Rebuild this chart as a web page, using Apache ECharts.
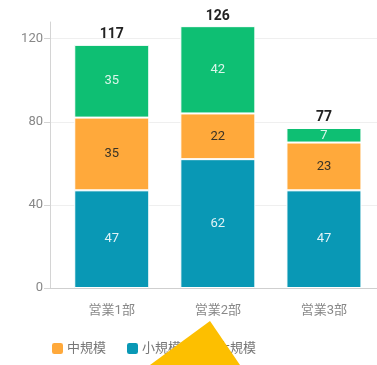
<!DOCTYPE html>
<html>
<head>
<meta charset="utf-8">
<script src="https://cdn.jsdelivr.net/npm/echarts@6/dist/echarts.min.js"></script>
<style>
  html, body { margin: 0; padding: 0; background: #fff; }
  #chart { width: 377px; height: 365px; }
</style>
</head>
<body>
<div id="chart"></div>
<script>
// 部署別・規模別の件数
const categories = ['営業1部', '営業2部', '営業3部'];
const smallScale = [47, 62, 47];   // 小規模
const midScale = [35, 22, 23];     // 中規模
const largeScale = [35, 42, 7];    // 大規模
const yTicks = [0, 40, 80, 120];

const totals = categories.map((_, i) => smallScale[i] + midScale[i] + largeScale[i]);

const FONT = 'Roboto, "Noto Sans CJK JP", sans-serif';
const COLORS = { small: '#0998B5', mid: '#FFA93B', large: '#0EBF73' };
const Y_MAX = 128;

const chart = echarts.init(document.getElementById('chart'), null, { renderer: 'canvas' });

function stackSeries(name, data, color, labelColor) {
  return {
    name, type: 'bar', stack: 'dept', data,
    xAxisIndex: 1, yAxisIndex: 1,
    barWidth: 75, barGap: '-100%',
    itemStyle: { color, borderColor: '#ffffff', borderWidth: 1 },
    label: {
      show: true, position: 'inside', color: labelColor,
      fontFamily: FONT, fontSize: 13
    },
    emphasis: { disabled: true }
  };
}

chart.setOption({
  backgroundColor: '#ffffff',
  animation: false,
  textStyle: { fontFamily: FONT },
  grid: [
    // frame: y scale, gridlines and base line
    { left: 50, right: -2, top: 22, bottom: 77 },
    // bars
    { left: 58.7, right: -1.7, top: 22, bottom: 77 }
  ],
  legend: {
    data: ['中規模', '小規模', '大規模'],
    left: 50, top: 341, padding: 0,
    icon: 'roundRect', itemWidth: 13, itemHeight: 13, itemGap: 19,
    textStyle: { color: '#777', fontSize: 13, fontFamily: FONT, padding: [0, 0, 0, -2] }
  },
  xAxis: [
    {
      gridIndex: 0, type: 'category', data: categories,
      axisLine: { show: true, lineStyle: { color: '#cfcfcf', width: 1 } },
      axisTick: { show: false }, axisLabel: { show: false }, splitLine: { show: false }
    },
    {
      gridIndex: 1, type: 'category', data: categories,
      axisLine: { show: false }, axisTick: { show: false },
      axisLabel: { color: '#888', fontSize: 13, margin: 16, fontFamily: FONT }
    }
  ],
  yAxis: [
    {
      gridIndex: 0, type: 'value', min: 0, max: Y_MAX, interval: 40,
      axisLine: { show: true, lineStyle: { color: '#d4d4d4' } },
      axisTick: { show: true, length: 6, lineStyle: { color: '#d4d4d4' } },
      axisLabel: {
        color: '#888', fontSize: 13, margin: 7, fontFamily: FONT,
        showMaxLabel: false,
        formatter: v => (yTicks.includes(v) ? String(v) : '')
      },
      splitLine: { show: true, showMaxLine: false, lineStyle: { color: '#efefef' } }
    },
    {
      gridIndex: 1, type: 'value', min: 0, max: Y_MAX, show: false,
      splitLine: { show: false }
    }
  ],
  series: [
    stackSeries('小規模', smallScale, COLORS.small, 'rgba(255,255,255,0.88)'),
    stackSeries('中規模', midScale, COLORS.mid, '#3a3326'),
    stackSeries('大規模', largeScale, COLORS.large, 'rgba(255,255,255,0.85)'),
    {
      name: '合計', type: 'bar', data: totals,
      xAxisIndex: 1, yAxisIndex: 1,
      barWidth: 75, barGap: '-100%',
      itemStyle: { color: 'rgba(0,0,0,0)' },
      label: {
        show: true, position: 'top', distance: 3,
        color: '#222', fontWeight: 'bold', fontSize: 14, fontFamily: FONT
      },
      emphasis: { disabled: true },
      tooltip: { show: false }
    }
  ],
  graphic: [
    {
      type: 'polygon', z: 100,
      shape: { points: [[210, 321], [150, 365], [240, 365]] },
      style: { fill: '#FDBF00' }
    }
  ]
});
</script>
</body>
</html>
